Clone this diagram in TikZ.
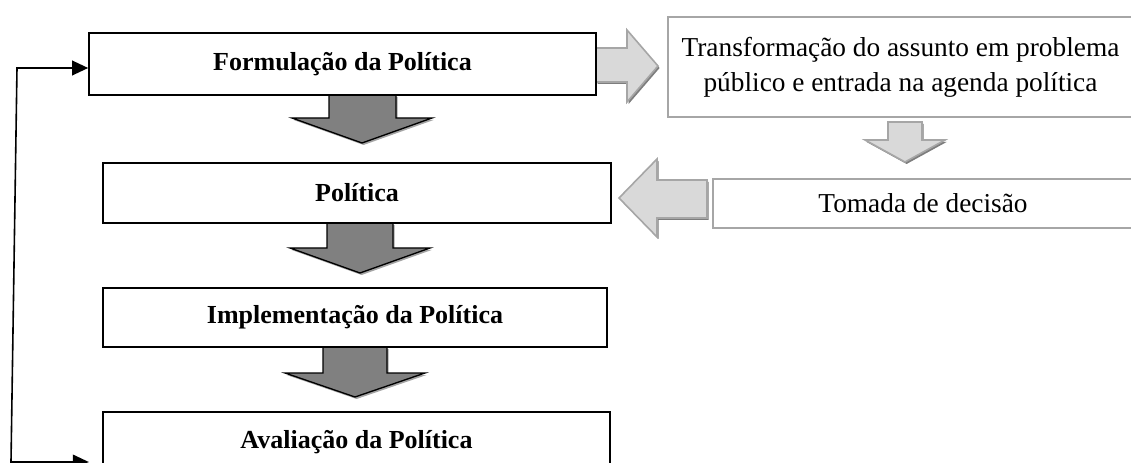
\documentclass[tikz,border=0pt]{standalone}
\usepackage{fontspec}
\setmainfont{Liberation Serif}
\usetikzlibrary{arrows.meta}

\definecolor{lightfill}{RGB}{217,217,217}
\definecolor{lightline}{RGB}{166,166,166}
\definecolor{darkfill}{RGB}{128,128,128}
\definecolor{shadowgray}{RGB}{125,125,125}

\tikzset{every picture/.style={line width=0.75pt}}
\tikzset{
  stagebox/.style={draw, line width=1.5pt, fill=white, inner sep=0pt,
    font=\fontsize{19.5}{23}\selectfont\bfseries},
  eventbox/.style={draw=lightline, line width=1.5pt, fill=white, inner sep=0pt,
    align=center, font=\fontsize{20.5}{26.25}\selectfont},
  lightarrow/.style={draw=lightline, fill=lightfill, line width=1.2pt,
    preaction={fill=shadowgray, transform canvas={xshift=1.2pt, yshift=-1.5pt}}},
  darkarrow/.style={draw=black, fill=darkfill, line width=1pt,
    preaction={fill=shadowgray!70, transform canvas={xshift=1.2pt, yshift=-1.5pt}}},
  feedback/.style={line width=1.2pt,
    {Triangle[length=12pt,width=11pt]}-{Triangle[length=12pt,width=11pt]}}
}

\begin{document}
\begin{tikzpicture}[x=0.75pt,y=0.75pt,yscale=-1,xscale=1]
        \useasboundingbox (0,0) rectangle (1131,463);

        %Shape: Right Arrow [id:formulacao-transformacao]
        \draw [lightarrow] (596,48) -- (627,48) -- (627,30) -- (658,66) -- (627,102) -- (627,82) -- (596,82) -- cycle ;
        %Shape: Down Arrow [id:transformacao-decisao]
        \draw [lightarrow] (888,122) -- (922,122) -- (922,140) -- (945,140) -- (905,162) -- (865,140) -- (888,140) -- cycle ;
        %Shape: Left Arrow [id:decisao-politica]
        \draw [lightarrow] (707,180) -- (657,180) -- (657,159) -- (619,198) -- (657,237) -- (657,218) -- (707,218) -- cycle ;

        %Shape: Down Arrow [id:formulacao-politica]
        \draw [darkarrow] (329,95) -- (396,95) -- (396,118) -- (432,118) -- (362,143) -- (292,118) -- (329,118) -- cycle ;
        %Shape: Down Arrow [id:politica-implementacao]
        \draw [darkarrow] (327,223) -- (393,223) -- (393,248) -- (430,248) -- (360,273) -- (290,248) -- (327,248) -- cycle ;
        %Shape: Down Arrow [id:implementacao-avaliacao]
        \draw [darkarrow] (323,347) -- (387,347) -- (387,373) -- (425,373) -- (355,397) -- (285,373) -- (323,373) -- cycle ;

        % Text Node
        \node [stagebox, minimum width=380pt, minimum height=46.5pt] (formulacao) at (342.5,64) {Formulação da Política};
        % Text Node
        \node [stagebox, minimum width=381pt, minimum height=45pt] (politica) at (357,193) {Política};
        % Text Node
        \node [stagebox, minimum width=378pt, minimum height=44.25pt] (implementacao) at (355,317.5) {Implementação da Política};
        % Text Node
        \node [stagebox, minimum width=380pt, minimum height=45pt] (avaliacao) at (356.5,442) {Avaliação da Política};

        % Text Node
        \node [eventbox, minimum width=349pt, minimum height=75pt] (transformacao) at (900.5,67) {Transformação do assunto em problema\\público e entrada na agenda política};
        % Text Node
        \node [eventbox, minimum width=315pt, minimum height=36.75pt] (decisao) at (923,203.5) {Tomada de decisão};

        %Straight Lines [id:feedback]
        \coordinate (loopbottom) at (11,462);
        \coordinate (looptop) at (17,68);
        \draw [feedback, shorten <=10pt] ([yshift=15pt]avaliacao.west) -- (loopbottom) -- (looptop) -- ([yshift=3pt]formulacao.west) ;

    \end{tikzpicture}
\end{document}
